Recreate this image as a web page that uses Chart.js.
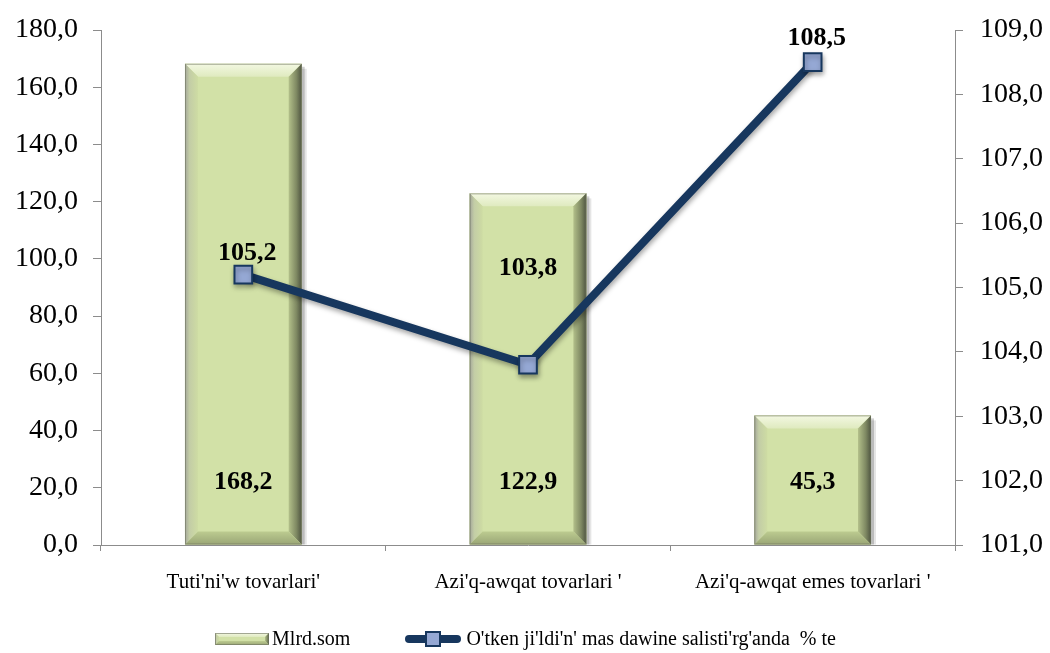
<!DOCTYPE html>
<html>
<head>
<meta charset="utf-8">
<script src="https://cdn.jsdelivr.net/npm/chart.js@4.4.0/dist/chart.umd.min.js"></script>
<style>
  html, body { margin: 0; padding: 0; background: #ffffff; }
  #wrap { position: relative; width: 1050px; height: 653px; }
  #chart { position: absolute; left: 0; top: 0; }
  #legend { position: absolute; left: 0; top: 627px; width: 1050px; display: flex; justify-content: center; align-items: center;
            font-family: 'Liberation Serif', 'Times New Roman', serif; font-size: 20px; color: #000; }
  .item { display: flex; align-items: center; }
  .item canvas { display: block; }
</style>
</head>
<body>
<div id="wrap">
  <canvas id="chart" width="1050" height="653"></canvas>
  <div id="legend">
    <div class="item"><canvas id="lg1" width="56" height="14"></canvas><span style="margin-left:2px">Mlrd.som</span></div>
    <div class="item" style="margin-left:54px"><canvas id="lg2" width="58" height="18"></canvas><span style="margin-left:4px">O'tken ji'ldi'n' mas dawine salisti'rg'anda&nbsp;&nbsp;% te</span></div>
  </div>
</div>
<script>
// ---- DATA ----
const categories = ["Tuti'ni'w tovarlari'", "Azi'q-awqat tovarlari '", "Azi'q-awqat emes tovarlari '"];
const barValues = [168.2, 122.9, 45.3];
const lineValues = [105.2, 103.8, 108.5];
const barLabel = "Mlrd.som";
const lineLabel = "O'tken ji'ldi'n' mas dawine salisti'rg'anda  % te";
const leftTicks = [0, 20, 40, 60, 80, 100, 120, 140, 160, 180];
const rightTicks = [101, 102, 103, 104, 105, 106, 107, 108, 109];

// ---- STYLE ----
const NAVY = '#17375E';
const MARKER = '#95A8D4';
const BAR = '#D2E1A7';
const AXIS = '#8C8C8C';
const FONT = "'Liberation Serif', 'Times New Roman', serif";
const lineLabelOffsets = [{dx: 4, dy: -21}, {dx: 0, dy: -96}, {dx: 4, dy: -24}];
const barLabelAt = 22; // value on left axis where bar labels sit

const fmt = v => Number(v).toFixed(1).replace('.', ',');

function drawBevel(ctx, left, top, right, bottom, b) {
  const w = right - left, h = bottom - top;
  b = Math.min(b, w / 2, h / 2);
  ctx.save();
  ctx.fillStyle = BAR;
  ctx.fillRect(left, top, w, h);
  let g = ctx.createLinearGradient(0, top, 0, top + b);
  g.addColorStop(0, '#F3F8E2'); g.addColorStop(1, '#DFEABF');
  ctx.fillStyle = g;
  ctx.beginPath(); ctx.moveTo(left, top); ctx.lineTo(right, top); ctx.lineTo(right - b, top + b); ctx.lineTo(left + b, top + b); ctx.closePath(); ctx.fill();
  g = ctx.createLinearGradient(left, 0, left + b, 0);
  g.addColorStop(0, '#A4A79A'); g.addColorStop(0.35, '#C3CDA6'); g.addColorStop(1, '#CEDCA3');
  ctx.fillStyle = g;
  ctx.beginPath(); ctx.moveTo(left, top); ctx.lineTo(left + b, top + b); ctx.lineTo(left + b, bottom - b); ctx.lineTo(left, bottom); ctx.closePath(); ctx.fill();
  g = ctx.createLinearGradient(right - b, 0, right, 0);
  g.addColorStop(0, '#B3C08A'); g.addColorStop(0.6, '#7E8862'); g.addColorStop(1, '#4E5440');
  ctx.fillStyle = g;
  ctx.beginPath(); ctx.moveTo(right, top); ctx.lineTo(right, bottom); ctx.lineTo(right - b, bottom - b); ctx.lineTo(right - b, top + b); ctx.closePath(); ctx.fill();
  g = ctx.createLinearGradient(0, bottom - b, 0, bottom);
  g.addColorStop(0, '#BCCB90'); g.addColorStop(1, '#9AA676');
  ctx.fillStyle = g;
  ctx.beginPath(); ctx.moveTo(left, bottom); ctx.lineTo(left + b, bottom - b); ctx.lineTo(right - b, bottom - b); ctx.lineTo(right, bottom); ctx.closePath(); ctx.fill();
  ctx.strokeStyle = 'rgba(110,115,95,0.6)'; ctx.lineWidth = 1;
  ctx.strokeRect(left + 0.5, top + 0.5, w - 1, h - 1);
  ctx.restore();
}

(function () {
  const c1 = document.getElementById('lg1').getContext('2d');
  drawBevel(c1, 1, 1, 55, 13, 4);
  const c2 = document.getElementById('lg2').getContext('2d');
  c2.strokeStyle = NAVY; c2.lineWidth = 8; c2.lineCap = 'round';
  c2.beginPath(); c2.moveTo(5, 9); c2.lineTo(53, 9); c2.stroke();
  c2.fillStyle = MARKER; c2.strokeStyle = NAVY; c2.lineWidth = 2;
  c2.fillRect(22, 2, 14, 14); c2.strokeRect(22, 2, 14, 14);
})();

const bevelPlugin = {
  id: 'bevel',
  beforeDatasetDraw(chart, args) {
    const ctx = chart.ctx;
    if (args.index === 1) {
      ctx.save();
      ctx.shadowColor = 'rgba(0,0,0,0.35)';
      ctx.shadowBlur = 5; ctx.shadowOffsetX = 1; ctx.shadowOffsetY = 3;
    }
    if (args.index === 0) {
      ctx.save();
      args.meta.data.forEach(el => {
        const l = el.x - el.width / 2, r = el.x + el.width / 2;
        ctx.fillStyle = 'rgba(0,0,0,0.18)';
        ctx.fillRect(l + 3, el.y + 3, r - l, el.base - el.y - 3);
        ctx.fillStyle = 'rgba(0,0,0,0.10)';
        ctx.fillRect(l + 5, el.y + 5, r - l, el.base - el.y - 5);
      });
      ctx.restore();
    }
  },
  afterDatasetDraw(chart, args) {
    const ctx = chart.ctx;
    if (args.index === 0) {
      args.meta.data.forEach(el => {
        drawBevel(ctx, el.x - el.width / 2, el.y, el.x + el.width / 2, el.base, 13);
      });
    }
    if (args.index === 1) ctx.restore();
  },
  afterDatasetsDraw(chart) {
    const ctx = chart.ctx;
    ctx.save();
    ctx.fillStyle = '#000';
    ctx.font = "bold 26px " + FONT;
    ctx.textAlign = 'center';
    ctx.textBaseline = 'middle';
    const yL = chart.scales.y;
    chart.getDatasetMeta(0).data.forEach((el, i) => {
      ctx.fillText(fmt(barValues[i]), el.x, yL.getPixelForValue(barLabelAt));
    });
    chart.getDatasetMeta(1).data.forEach((el, i) => {
      const o = lineLabelOffsets[i];
      ctx.fillText(fmt(lineValues[i]), el.x + o.dx, el.y + o.dy);
    });
    ctx.restore();
  }
};

new Chart(document.getElementById('chart'), {
  data: {
    labels: categories,
    datasets: [
      {
        type: 'bar', label: barLabel, data: barValues, yAxisID: 'y',
        backgroundColor: BAR, borderWidth: 0,
        barPercentage: 0.41, categoryPercentage: 1.0, order: 2
      },
      {
        type: 'line', label: lineLabel, data: lineValues, yAxisID: 'y1',
        borderColor: NAVY, borderWidth: 8, tension: 0,
        pointStyle: 'rect', pointRadius: 12.5, pointHoverRadius: 12.5,
        pointBackgroundColor: MARKER, pointBorderColor: NAVY, pointBorderWidth: 2,
        order: 1
      }
    ]
  },
  options: {
    responsive: false,
    animation: false,
    layout: { padding: { top: 30, left: 0, right: 0, bottom: 0 } },
    plugins: { legend: { display: false }, tooltip: { enabled: false } },
    scales: {
      x: {
        offset: true,
        grid: { display: true, offset: true, drawOnChartArea: false, drawTicks: true, tickLength: 6, color: AXIS },
        border: { display: true, color: AXIS, width: 1 },
        ticks: { color: '#000', font: { family: FONT, size: 21 }, padding: 19, maxRotation: 0 },
        afterFit(s) { s.height = 653 - 545; }
      },
      y: {
        position: 'left', min: 0, max: 180,
        afterBuildTicks(s) { s.ticks = leftTicks.map(v => ({ value: v })); },
        grid: { display: true, drawOnChartArea: false, drawTicks: true, tickLength: 8, color: AXIS },
        border: { display: true, color: AXIS, width: 1 },
        ticks: { color: '#000', font: { family: FONT, size: 28 }, padding: 15, callback: v => fmt(v) },
        afterFit(s) { s.width = 101; s.paddingTop = 0; s.paddingBottom = 0; }
      },
      y1: {
        position: 'right', min: 101, max: 109,
        afterBuildTicks(s) { s.ticks = rightTicks.map(v => ({ value: v })); },
        grid: { display: true, drawOnChartArea: false, drawTicks: true, tickLength: 8, color: AXIS },
        border: { display: true, color: AXIS, width: 1 },
        ticks: { color: '#000', font: { family: FONT, size: 28 }, padding: 17, callback: v => fmt(v) },
        afterFit(s) { s.width = 95; s.paddingTop = 0; s.paddingBottom = 0; }
      }
    }
  },
  plugins: [bevelPlugin]
});
</script>
</body>
</html>
